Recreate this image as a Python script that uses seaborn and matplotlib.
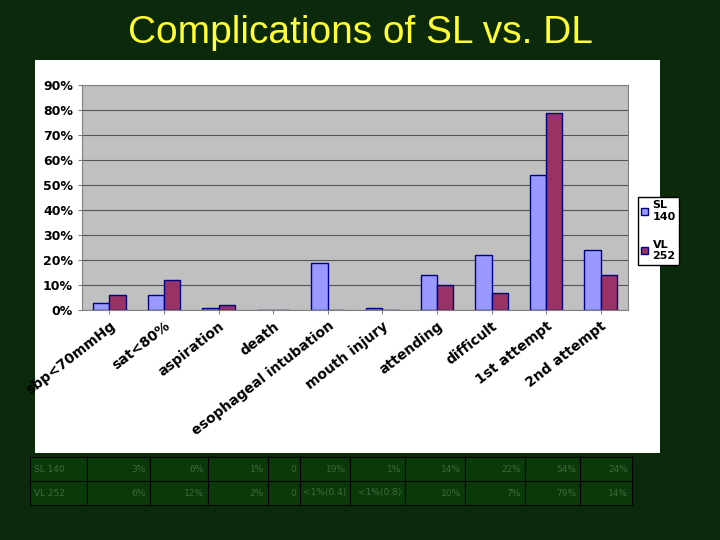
import matplotlib
matplotlib.use("Agg")
import matplotlib.pyplot as plt
import seaborn as sns
import pandas as pd
from matplotlib.patches import Rectangle

categories = ["sbp<70mmHg", "sat<80%", "aspiration", "death", "esophageal intubation",
              "mouth injury", "attending", "difficult", "1st attempt", "2nd attempt"]
sl_values = [3, 6, 1, 0, 19, 1, 14, 22, 54, 24]
vl_values = [6, 12, 2, 0, 0, 0, 10, 7, 79, 14]
series_names = ["SL\n140", "VL\n252"]
table_sl = ["SL 140", "3%", "6%", "1%", "0", "19%", "1%", "14%", "22%", "54%", "24%"]
table_vl = ["VL 252", "6%", "12%", "2%", "0", "<1%(0.4)", "<1%(0.8)", "10%", "7%", "79%", "14%"]
yticks = [0, 10, 20, 30, 40, 50, 60, 70, 80, 90]

df = pd.DataFrame({
    "cat": categories * 2,
    "val": sl_values + vl_values,
    "series": [series_names[0]] * len(categories) + [series_names[1]] * len(categories),
})

W, H = 720, 540
fig = plt.figure(figsize=(7.2, 5.4), dpi=100)
fig.patch.set_facecolor("#0b2a0b")
bg = fig.add_axes([0, 0, 1, 1]); bg.axis("off")
bg.set_xlim(0, W); bg.set_ylim(H, 0)
bg.add_patch(Rectangle((35, 60), 625, 393, facecolor="white", edgecolor="none"))
bg.text(360, 33, "Complications of SL vs. DL", color="#ffff33", fontsize=28,
        ha="center", va="center", family="Liberation Sans")

x_edges = [30, 87, 150, 208, 268, 300, 350, 405, 465, 525, 580, 632]
for r, row in enumerate([table_sl, table_vl]):
    y0 = 457 + r * 24
    for i, txt in enumerate(row):
        bg.add_patch(Rectangle((x_edges[i], y0), x_edges[i + 1] - x_edges[i], 24,
                               facecolor="#0a3a0a", edgecolor="black", lw=0.8))
        if i == 0:
            bg.text(x_edges[i] + 4, y0 + 12, txt, color="#3f6a3f", fontsize=6.5, va="center")
        else:
            bg.text(x_edges[i + 1] - 4, y0 + 12, txt, color="#3f6a3f", fontsize=6.5,
                    va="center", ha="right")

ax = fig.add_axes([82 / W, 1 - 310 / H, (628 - 82) / W, (310 - 85) / H])
sns.barplot(data=df, x="cat", y="val", hue="series", saturation=1,
            palette=["#9999ff", "#993366"], edgecolor="#000080", linewidth=1,
            width=0.6, ax=ax)
ax.set_facecolor("#c0c0c0")
ax.set_ylim(0, 90)
ax.set_yticks(yticks)
ax.set_yticklabels([f"{t}%" for t in yticks], fontsize=9, fontweight="bold")
ax.yaxis.grid(True, color="#555555", lw=0.8)
ax.set_axisbelow(True)
ax.set_xlabel(""); ax.set_ylabel("")
ax.set_xticks(range(len(categories)))
ax.set_xticklabels(categories, rotation=38, ha="right", rotation_mode="anchor",
                   fontsize=10, fontweight="bold")
for s in ax.spines.values():
    s.set_color("#808080")
ax.tick_params(axis="both", length=3, color="#808080")
leg = ax.legend(loc="upper left", bbox_to_anchor=((638 - 82) / (628 - 82), (310 - 197) / (310 - 85)),
                frameon=True, prop={"weight": "bold", "size": 8},
                handlelength=0.6, handleheight=0.6, handletextpad=0.4, borderpad=0.3,
                borderaxespad=0, labelspacing=1.6, fancybox=False, edgecolor="black",
                facecolor="white", framealpha=1)
fig.savefig("out.png", dpi=100, facecolor=fig.get_facecolor())
